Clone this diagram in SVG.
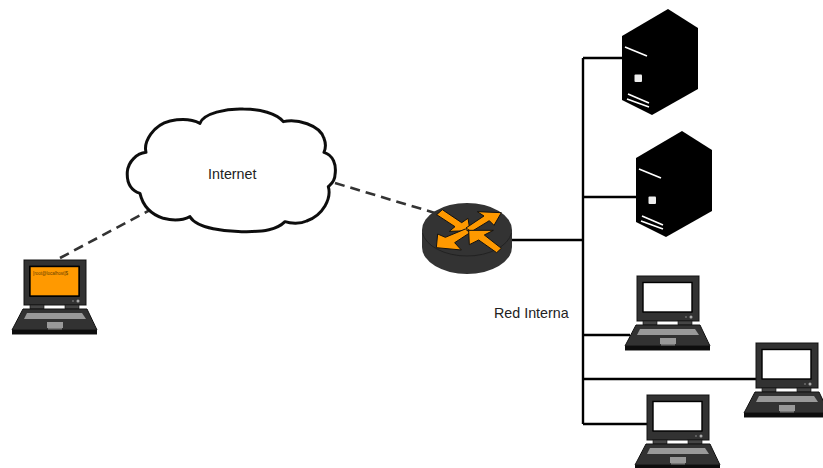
<svg xmlns="http://www.w3.org/2000/svg" width="823" height="468" viewBox="0 0 823 468">
<style>
.wire{fill:none;stroke:#000;stroke-width:2.4}
.dash{fill:none;stroke:#333;stroke-width:2.6;stroke-dasharray:10 6}
.lbl{font-family:"Liberation Sans",Arial,sans-serif;font-size:14.3px;fill:#222}
.arr{fill:#f90;stroke:#111;stroke-width:3;stroke-linejoin:round}
.soft{filter:url(#soft)}
</style>
<defs>
<filter id="soft" x="-5%" y="-5%" width="110%" height="110%"><feGaussianBlur stdDeviation=".45"/></filter>
<g id="laptop">
<rect x="0" y="0" width="62" height="45" fill="#333" stroke="#111" stroke-width="1"/>
<rect x="6" y="6.500" width="49" height="29.500" fill="#fff" stroke="#000" stroke-width="1.400"/>
<circle cx="54" cy="41" r="1.500" fill="#aaa"/><circle cx="49" cy="41" r=".7" fill="#aaa"/>
<rect x="6" y="45" width="14" height="4" fill="#444" stroke="#111" stroke-width=".6"/>
<rect x="41" y="45" width="14" height="4" fill="#444" stroke="#111" stroke-width=".6"/>
<path d="M-1 49H63L73 70H-12Z" fill="#333" stroke="#111" stroke-width="1"/>
<rect x="-12" y="70" width="85" height="4.500" fill="#111"/>
<path d="M3 53H58L62 59H0Z" fill="#999"/>
<rect x="23" y="62" width="16" height="6" fill="#999"/><rect x="24" y="68" width="14" height="1.500" fill="#777"/>
</g>
<g id="server">
<path d="M668 9L698 28V89L652 115L622 100V36Z" fill="#000"/>
<path d="M625 47L647 56M628 94L649 103M627 99L649 107" stroke="#fff" stroke-width="1.700" fill="none"/>
<rect x="634.500" y="74.500" width="7.500" height="7.500" rx="1" fill="#eee"/>
</g>
</defs>
<g id="connectors">
<path class="wire" d="M583 58V424M583 58H622M583 197H636M512 240H583M583 335H630M583 379H756M583 424H647"/>
<path class="dash" d="M60 258L150 210M335 183L435 213"/>
</g>
<g id="cloud">
<path class="soft" transform="translate(120 95) scale(.3333)" fill="#fff" stroke="#111" stroke-width="9" stroke-linejoin="round" d="M240 85C250 55 320 40 370 42C420 42 470 55 490 80C530 70 600 90 612 130C620 150 615 165 612 172C640 180 650 210 645 240C645 260 630 270 625 275C635 310 610 360 560 378C540 388 510 385 495 380C470 405 430 410 380 410C320 412 230 400 210 365C190 375 160 378 130 370C100 360 70 340 60 295C30 285 20 260 22 230C25 200 50 175 78 172C70 140 100 90 150 78C180 72 215 72 240 85Z"/>
<text class="lbl" x="208" y="179">Internet</text>
</g>
<g id="remote-laptop">
<g class="soft"><use href="#laptop" x="24" y="260"/>
<rect x="30" y="266.500" width="49" height="29.500" fill="#f90" stroke="#000" stroke-width="1.400"/></g>
<text x="33" y="275" font-family="Liberation Sans, sans-serif" font-size="4.500" fill="#664000">[root@localhost]$</text>
</g>
<g id="router">
<path d="M422 230V247A45 27 0 0 0 512 247V230Z" fill="#333"/>
<ellipse cx="467" cy="230" rx="45" ry="27" fill="#333"/>
<path d="M422.500 233A45 27 0 0 0 511.500 233" fill="none" stroke="#222" stroke-width="1"/>
<g transform="translate(430 200) scale(.3333)">
<path class="arr" d="M20 44L37 29L95 68L114 55L120 92L58 94L75 80Z"/>
<path class="arr" d="M214 38L192 76L178 62L124 95L108 84L162 48L142 35Z"/>
<path class="arr" d="M19 143L23 102L46 112L106 87L120 98L74 128L94 150Z"/>
<path class="arr" d="M116 91H190L163 105L214 145L200 158L146 120L118 134Z"/>
</g>
</g>
<g id="server-1" class="soft"><use href="#server"/></g>
<g id="server-2" class="soft"><use href="#server" x="14" y="122"/></g>
<g id="laptop-1" class="soft"><use href="#laptop" x="637" y="276"/></g>
<g id="laptop-2" class="soft"><use href="#laptop" x="756" y="343"/></g>
<g id="laptop-3" class="soft"><use href="#laptop" x="647" y="395"/></g>
<text class="lbl" x="494" y="318">Red Interna</text>
</svg>
